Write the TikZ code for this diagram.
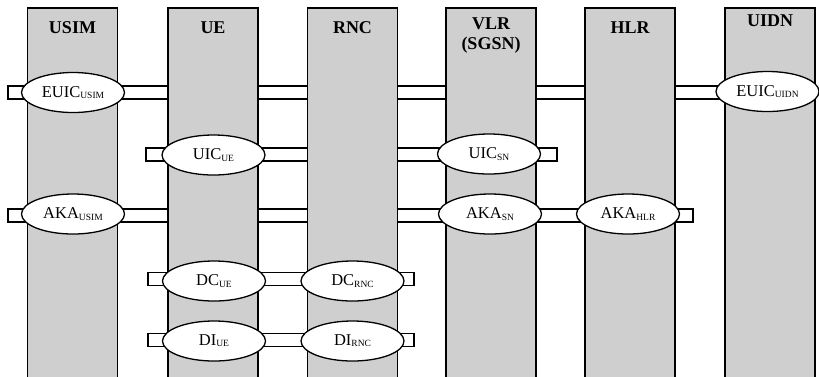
\documentclass[tikz,border=0pt]{standalone}
\usepackage{fontspec}
\setmainfont{Liberation Serif}
\usetikzlibrary{shapes.geometric}
\newcommand{\lsub}[1]{\raisebox{-1.2pt}{\fontsize{9.5}{9.5}\selectfont #1}}
\begin{document}
\begin{tikzpicture}[x=1pt,y=-1pt,
  colbox/.style={draw=black, fill=gray!38, line width=1.5pt, minimum width=90pt, minimum height=385pt, anchor=north, inner sep=0pt},
  barbox/.style={fill=white, draw=black, line width=1.3pt},
  oval/.style={ellipse, draw=black, fill=white, line width=1.3pt, minimum width=103pt, minimum height=40pt, inner sep=0pt, font=\fontsize{16.5}{16.5}\selectfont},
  head/.style={font=\fontsize{18}{20}\selectfont\bfseries, align=center, inner sep=0pt}]
\useasboundingbox (0,0) rectangle (819,376);

% bar end points
\coordinate (b1l) at (8,92.5);   \coordinate (b1r) at (768,92.5);
\coordinate (b2l) at (146,154.5); \coordinate (b2r) at (557,154.5);
\coordinate (b3l) at (8,215.5);  \coordinate (b3r) at (693,215.5);
\coordinate (b4l) at (148,279);  \coordinate (b4r) at (414,279);
\coordinate (b5l) at (148,340);  \coordinate (b5r) at (414,340);
\foreach \l/\r in {b1l/b1r,b2l/b2r,b3l/b3r,b4l/b4r,b5l/b5r}
  \draw[barbox] ([yshift=6.5pt]\l) rectangle ([yshift=-6.5pt]\r);

% columns
\node[colbox] (cusim) at (72.5,7) {};
\node[colbox] (cue)   at (213,7) {};
\node[colbox] (crnc)  at (352.5,7) {};
\node[colbox] (cvlr)  at (491,7) {};
\node[colbox] (chlr)  at (630,7) {};
\node[colbox] (cuidn) at (770,7) {};

% headers
\node[head] (husim) at (72.5,28) {USIM};
\node[head] (hue)   at (213,28) {UE};
\node[head] (hrnc)  at (352.5,28) {RNC};
\node[head] (hvlr)  at (491,36) {VLR\\(SGSN)};
\node[head] (hhlr)  at (630,28) {HLR};
\node[head] (huidn) at (770,21) {UIDN};

% ovals
\node[oval] (euicusim) at (73,92.5) {EUIC\lsub{USIM}};
\node[oval] (euicuidn) at (767.5,91.5) {EUIC\lsub{UIDN}};
\node[oval] (uicue) at (213.5,155) {UIC\lsub{UE}};
\node[oval] (uicsn) at (489,154) {UIC\lsub{SN}};
\node[oval] (akausim) at (73,214) {AKA\lsub{USIM}};
\node[oval] (akasn) at (490,214) {AKA\lsub{SN}};
\node[oval] (akahlr) at (628,214) {AKA\lsub{HLR}};
\node[oval] (dcue) at (214,281) {DC\lsub{UE}};
\node[oval] (dcrnc) at (352.5,281) {DC\lsub{RNC}};
\node[oval] (diue) at (214,341) {DI\lsub{UE}};
\node[oval] (dirnc) at (352.5,341) {DI\lsub{RNC}};
\end{tikzpicture}
\end{document}
